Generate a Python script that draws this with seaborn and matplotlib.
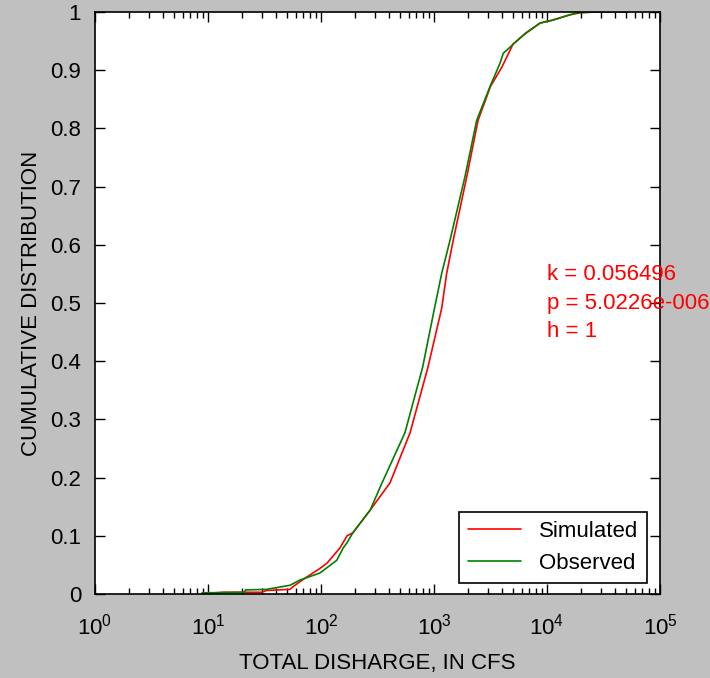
import numpy as np
import pandas as pd
import matplotlib
matplotlib.use("Agg")
import matplotlib.pyplot as plt
from matplotlib.ticker import FuncFormatter, LogLocator
import seaborn as sns

# Емпіричні функції розподілу (витрата у CFS, ймовірність)
sim_flow = [8.9, 13.6, 30, 33, 53, 56.5, 65, 72, 98, 113, 147, 170, 191, 272,
            408, 614, 885, 1170, 1295, 1480, 1950, 2455, 3160, 3980, 5010,
            6460, 8710, 11200, 15800, 20000, 27500]
sim_cdf = [0.0, 0.003, 0.003, 0.006, 0.008, 0.0125, 0.021, 0.027, 0.044, 0.053,
           0.079, 0.100, 0.105, 0.144, 0.191, 0.277, 0.390, 0.491, 0.551, 0.608,
           0.717, 0.814, 0.872, 0.905, 0.945, 0.963, 0.981, 0.986, 0.995, 0.999, 1.0]

obs_flow = [8.85, 21.2, 21.4, 33.1, 53.2, 65.2, 72.1, 97.7, 138, 157, 170, 191,
            272, 347, 553, 794, 1010, 1170, 1387, 1879, 2388, 3133, 3837, 4102,
            6383, 8670, 11220, 15850, 18620, 27540, 52480]
obs_cdf = [0.002, 0.003, 0.007, 0.008, 0.015, 0.024, 0.027, 0.036, 0.058, 0.079,
           0.088, 0.105, 0.144, 0.191, 0.277, 0.390, 0.491, 0.551, 0.608, 0.717,
           0.814, 0.872, 0.912, 0.929, 0.963, 0.981, 0.986, 0.995, 0.9988, 1.0, 1.0]

series_names = ["Simulated", "Observed"]
series_colors = ["#ff0000", "#008000"]
stats_text = "k = 0.056496\np = 5.0226e-006\nh = 1"

df = pd.concat([
    pd.DataFrame({"flow": sim_flow, "cdf": sim_cdf, "series": series_names[0]}),
    pd.DataFrame({"flow": obs_flow, "cdf": obs_cdf, "series": series_names[1]}),
], ignore_index=True)

sns.set_style("ticks")
plt.rcParams['font.family'] = ['Liberation Sans', 'DejaVu Sans']
plt.rcParams['mathtext.fontset'] = 'custom'
plt.rcParams['mathtext.rm'] = 'Liberation Sans'
plt.rcParams['mathtext.it'] = 'Liberation Sans'
plt.rcParams['text.color'] = 'black'
plt.rcParams['axes.labelcolor'] = 'black'

grey = "#c0c0c0"
fig = plt.figure(figsize=(7.1, 6.78), dpi=100, facecolor=grey)
ax = fig.add_axes([95 / 710, 1 - 594 / 678, 565 / 710, 582 / 678])
ax.set_facecolor("white")

sns.lineplot(data=df, x="flow", y="cdf", hue="series",
             palette=dict(zip(series_names, series_colors)),
             estimator=None, sort=False, lw=1.2, ax=ax)

ax.set_xscale("log")
ax.set_xlim(1, 1e5)
ax.set_ylim(0, 1)
ax.set_yticks(np.arange(0, 1.01, 0.1))
ax.yaxis.set_major_formatter(FuncFormatter(lambda v, p: f"{v:g}"))
ax.xaxis.set_minor_locator(LogLocator(base=10, subs=np.arange(2, 10)))

for s in ax.spines.values():
    s.set_color("black")
    s.set_linewidth(1.2)
ax.tick_params(which="both", direction="in", top=True, right=True,
               colors="black", labelsize=16)
ax.tick_params(which="major", length=7, width=1)
ax.tick_params(which="minor", length=4, width=1)
ax.tick_params(axis="x", which="major", pad=14)
ax.tick_params(axis="y", which="major", pad=10)

ax.set_xlabel("TOTAL DISHARGE, IN CFS", fontsize=16, labelpad=10)
ax.set_ylabel("CUMULATIVE DISTRIBUTION", fontsize=16, labelpad=6)

ax.text(1e4, 0.5, stats_text, color="red", fontsize=16, va="center",
        ha="left", linespacing=1.45, clip_on=False)

leg = ax.legend(loc="lower right", bbox_to_anchor=(0.977, 0.019),
                borderaxespad=0, fontsize=16, frameon=True, fancybox=False,
                framealpha=1, edgecolor="black", handlelength=2.4, title=None)
leg.get_frame().set_linewidth(1.2)

fig.savefig("out.png", dpi=100, facecolor=grey)
